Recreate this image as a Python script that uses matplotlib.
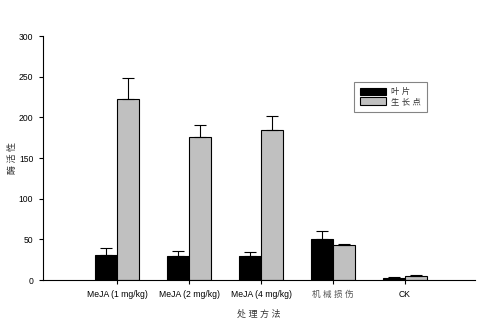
import matplotlib
matplotlib.use("Agg")
import matplotlib.pyplot as plt
import numpy as np

categories = ["MeJA (1 mg/kg)", "MeJA (2 mg/kg)", "MeJA (4 mg/kg)", "机 械 损 伤", "CK"]
leaf = [31, 29, 29, 50, 3]
leaf_err = [8, 7, 6, 10, 1]
growth = [222, 176, 185, 43, 5]
growth_err = [27, 15, 17, 1, 1]
series_names = ["叶 片", "生 长 点"]
yticks = [0, 50, 100, 150, 200, 250, 300]

plt.rcParams['font.family'] = ['Liberation Sans', 'Noto Sans CJK SC']

fig = plt.figure(figsize=(4.9, 3.19), dpi=100)
ax = fig.add_axes([0.0878, 0.122, 0.881, 0.765])

x = np.arange(1, len(categories) + 1)
w = 0.31
ekw = dict(ecolor='black', elinewidth=0.8, capsize=4, capthick=0.8)
ax.bar(x - w / 2, leaf, w, color='black', edgecolor='black', linewidth=0.8,
       yerr=[np.zeros(len(leaf)), leaf_err], error_kw=ekw, label=series_names[0])
ax.bar(x + w / 2, growth, w, color='#c0c0c0', edgecolor='black', linewidth=0.8,
       yerr=[np.zeros(len(growth)), growth_err], error_kw=ekw, label=series_names[1])

ax.set_xlim(-0.03, 5.97)
ax.set_ylim(0, 300)
ax.set_yticks(yticks)
ax.set_xticks(x)
ax.set_xticklabels(categories)
for lab in ax.get_xticklabels():
    if any(ord(c) > 127 for c in lab.get_text()):
        lab.set_color('#555555')
ax.tick_params(axis='both', direction='out', length=3, width=0.8, labelsize=6.2, pad=4)
ax.spines['top'].set_visible(False)
ax.spines['right'].set_visible(False)
ax.spines['left'].set_linewidth(0.8)
ax.spines['bottom'].set_linewidth(0.8)

fig.text(0.026, 0.505, "酶 活 性", rotation=90, fontsize=6.5, color='#333333',
         ha='center', va='center')
ax.set_xlabel("处 理 方 法", fontsize=6.5, labelpad=8, color='#333333')

leg = ax.legend(loc='upper left', bbox_to_anchor=(0.71, 0.83), fontsize=6, frameon=True,
                fancybox=False, edgecolor='#666666', handlelength=3.2, handleheight=1.0,
                borderpad=0.7, labelspacing=0.15, handletextpad=0.6)
leg.get_frame().set_linewidth(0.8)
for t in leg.get_texts():
    t.set_color('#333333')

fig.savefig("out.png", dpi=100)
